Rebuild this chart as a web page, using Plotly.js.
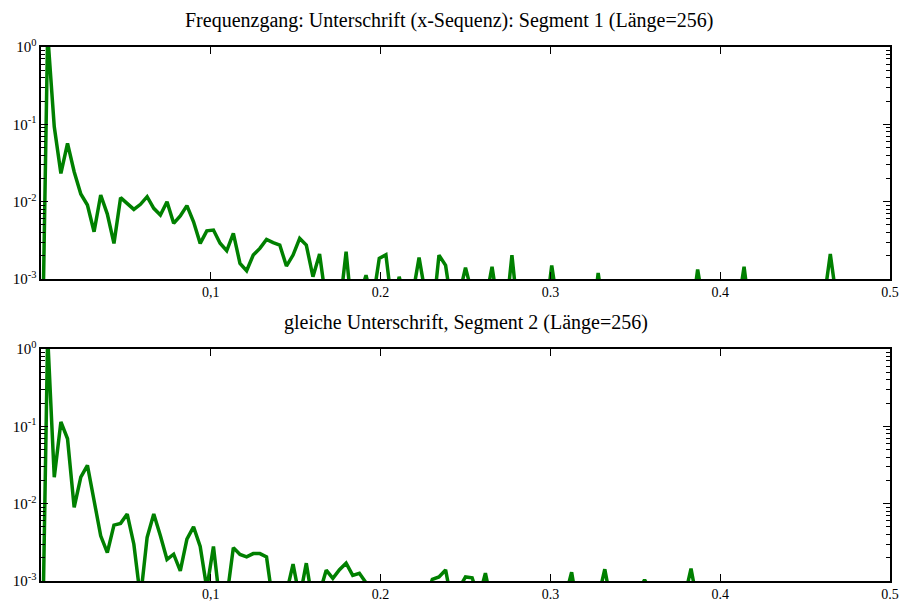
<!DOCTYPE html>
<html>
<head>
<meta charset="utf-8">
<script src="https://cdn.plot.ly/plotly-3.0.1.min.js"></script>
<style>html,body{margin:0;padding:0;background:#fff}#chart{width:900px;height:601px}</style>
</head>
<body>
<div id="chart"></div>
<script>
// Segment length (FFT length); frequency bins k/N for k = 0..N/2
const segmentLength = 256;

const title1 = "Frequenzgang: Unterschrift (x-Sequenz): Segment 1 (Länge=256)";
const title2 = "gleiche Unterschrift, Segment 2 (Länge=256)";

const xTickVals = [0.1, 0.2, 0.3, 0.4, 0.5];
const xTickText = ["0,1", "0.2", "0.3", "0.4", "0.5"];
const yTickVals = [0.001, 0.01, 0.1, 1];
const yTickText = ["10<sup>-3</sup>", "10<sup>-2</sup>", "10<sup>-1</sup>", "10<sup>0</sup>"];

// Magnitude, segment 1 (bins 0..128)
const segment1 = [
  0.00001, 1.5, 0.093, 0.0232, 0.0568, 0.0244, 0.0126, 0.00906, 0.00409, 0.0122,
  0.00692, 0.00289, 0.01127, 0.00953, 0.00795, 0.00924, 0.0116, 0.0082, 0.00673, 0.01,
  0.00525, 0.00653, 0.0089, 0.0055, 0.00289, 0.0042, 0.0043, 0.0029, 0.00232, 0.0039,
  0.00159, 0.00128, 0.00204, 0.00249, 0.00325, 0.00295, 0.00275, 0.00147, 0.00204, 0.00335,
  0.00275, 0.00107, 0.0021, 0.0005, 0.0002, 0.0004, 0.00225, 0.0003, 0.0006, 0.00112,
  0.0005, 0.00185, 0.00206, 0.0004, 0.00107, 0.0005, 0.0006, 0.0019, 0.0006, 0.0003,
  0.00204, 0.0015, 0.0004, 0.0006, 0.0014, 0.0007, 0.0003, 0.0005, 0.00144, 0.0004,
  0.0003, 0.00204, 0.0003, 0.0005, 0.0002, 0.0004, 0.0003, 0.0015, 0.0004, 0.0002,
  0.0005, 0.0003, 0.0004, 0.0002, 0.0012, 0.0003, 0.0005, 0.0002, 0.0004, 0.0003,
  0.0006, 0.0002, 0.0004, 0.0003, 0.0005, 0.0002, 0.0003, 0.0004, 0.0003, 0.00133,
  0.0004, 0.0002, 0.0005, 0.0003, 0.0002, 0.0004, 0.00144, 0.0003, 0.0005, 0.0002,
  0.0004, 0.0003, 0.0002, 0.0005, 0.0003, 0.0004, 0.0002, 0.0003, 0.0005, 0.0021,
  0.0005, 0.0003, 0.0002, 0.0004, 0.0003, 0.0005, 0.0002, 0.0004, 0.0003
];

// Magnitude, segment 2 (bins 0..128)
const segment2 = [
  0.00001, 1.5, 0.022, 0.114, 0.069, 0.00896, 0.022, 0.0312, 0.011, 0.00384,
  0.00233, 0.00528, 0.00556, 0.00734, 0.00299, 0.0006, 0.00366, 0.00734, 0.00384, 0.0019,
  0.00222, 0.00135, 0.00348, 0.005, 0.0028, 0.0008, 0.0028, 0.0005, 0.0006, 0.0027,
  0.0022, 0.00205, 0.00226, 0.00226, 0.00205, 0.0005, 0.0004, 0.0007, 0.00165, 0.0006,
  0.0017, 0.0005, 0.0007, 0.00138, 0.00108, 0.0014, 0.0017, 0.00118, 0.00126, 0.00095,
  0.0006, 0.0003, 0.0005, 0.0002, 0.0004, 0.0003, 0.0005, 0.0002, 0.0006, 0.00105,
  0.00113, 0.00139, 0.0005, 0.0008, 0.00113, 0.0011, 0.0006, 0.00126, 0.0005, 0.0003,
  0.0004, 0.0002, 0.0005, 0.0003, 0.0004, 0.0002, 0.0003, 0.0005, 0.0004, 0.0006,
  0.0013, 0.0004, 0.0003, 0.0002, 0.0006, 0.00142, 0.0005, 0.0003, 0.0002, 0.0004,
  0.0007, 0.00104, 0.0007, 0.0003, 0.0002, 0.0004, 0.0003, 0.0006, 0.00145, 0.0005,
  0.0003, 0.0002, 0.0004, 0.0003, 0.0005, 0.0002, 0.0004, 0.0003, 0.0002, 0.0005,
  0.0003, 0.0004, 0.0002, 0.0003, 0.0005, 0.0002, 0.0004, 0.0003, 0.0002, 0.0004,
  0.0003, 0.0005, 0.0002, 0.0004, 0.0003, 0.0002, 0.0005, 0.0003, 0.0004
];

const freq = segment1.map((_, k) => k / segmentLength);

const lineStyle = {color: "#008000", width: 3.5};
const traces = [
  {x: freq, y: segment1, type: "scatter", mode: "lines", line: lineStyle, xaxis: "x", yaxis: "y", hoverinfo: "skip"},
  {x: freq, y: segment2, type: "scatter", mode: "lines", line: lineStyle, xaxis: "x2", yaxis: "y2", hoverinfo: "skip"}
];

const fontFamily = "'Liberation Serif', 'DejaVu Serif', serif";
const minorVals = [];
[0.001, 0.01, 0.1].forEach(d => { for (let m = 2; m <= 9; m++) minorVals.push(d * m); });

function xAxis(anchor) {
  return {
    anchor: anchor, range: [0, 0.5], tickmode: "array", tickvals: xTickVals, ticktext: xTickText,
    ticks: "inside", ticklen: 7, tickwidth: 1, tickcolor: "#000",
    showline: true, linecolor: "#000", linewidth: 1.6, mirror: "ticks",
    showgrid: false, zeroline: false, tickfont: {family: fontFamily, size: 14, color: "#000"}
  };
}
function yAxis(anchor, domain) {
  return {
    anchor: anchor, domain: domain, type: "log", range: [-3, 0],
    tickmode: "array", tickvals: yTickVals, ticktext: yTickText,
    ticks: "inside", ticklen: 7, tickwidth: 1, tickcolor: "#000",
    minor: {tickmode: "array", tickvals: minorVals, ticks: "inside", ticklen: 4, tickwidth: 1, tickcolor: "#000", showgrid: false},
    showline: true, linecolor: "#000", linewidth: 1.6, mirror: "ticks",
    showgrid: false, zeroline: false, tickfont: {family: fontFamily, size: 15, color: "#000"}
  };
}

const layout = {
  width: 900, height: 601,
  font: {family: fontFamily, color: "#000"},
  margin: {l: 41, r: 10, t: 47, b: 20},
  paper_bgcolor: "#fff", plot_bgcolor: "#fff",
  showlegend: false,
  xaxis: xAxis("y"),
  yaxis: yAxis("x", [0.5655, 1]),
  xaxis2: xAxis("y2"),
  yaxis2: yAxis("x2", [0, 0.4345]),
  annotations: [
    {text: title1, xref: "paper", yref: "paper", x: 0.4811, y: 1, yshift: 27, xanchor: "center", yanchor: "middle", showarrow: false, font: {family: fontFamily, size: 20, color: "#000"}},
    {text: title2, xref: "paper", yref: "paper", x: 0.5006, y: 0.4345, yshift: 26, xanchor: "center", yanchor: "middle", showarrow: false, font: {family: fontFamily, size: 20, color: "#000"}}
  ]
};

Plotly.newPlot("chart", traces, layout, {staticPlot: true});
</script>
</body>
</html>
